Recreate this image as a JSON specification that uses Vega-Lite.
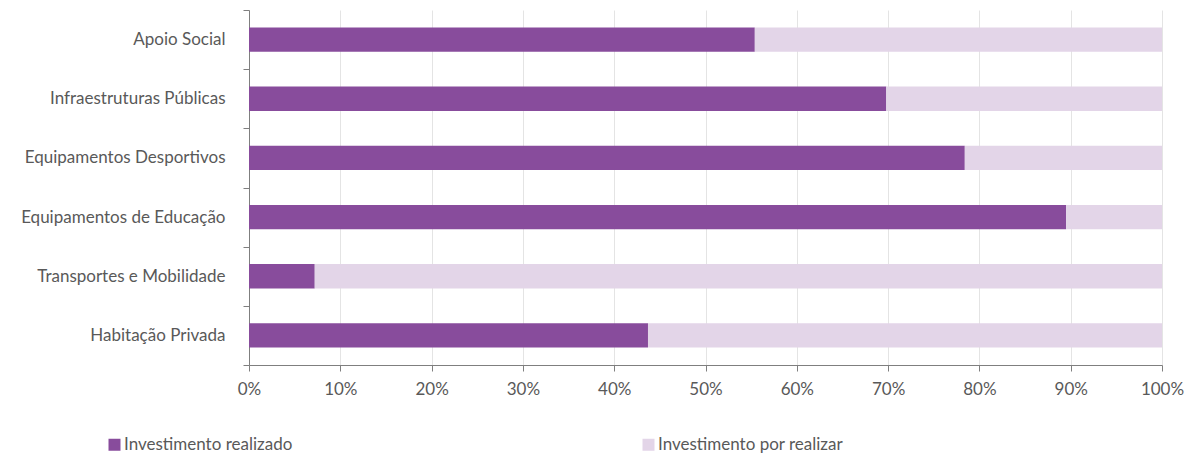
{
  "$schema": "https://vega.github.io/schema/vega-lite/v6.json",
  "autosize": {"type": "none"},
  "padding": {"left": 249, "top": 10, "right": 27, "bottom": 91},
  "width": 913,
  "height": 355,
  "background": "white",
  "config": {
    "font": "Lato",
    "view": {"stroke": null},
    "axis": {"labelFont": "Lato", "labelFontSize": 17, "labelColor": "#595959", "domainColor": "#7f7f7f", "tickColor": "#7f7f7f", "gridColor": "#e4e4e4", "labelLimit": 400},
    "legend": {"labelFont": "Lato", "labelFontSize": 17, "labelColor": "#595959", "labelLimit": 400}
  },
  "data": {
    "values": [
      {"categoria": "Apoio Social", "serie": "Investimento realizado", "ordem": 1, "valor": 55.4},
      {"categoria": "Apoio Social", "serie": "Investimento por realizar", "ordem": 2, "valor": 44.6},
      {"categoria": "Infraestruturas Públicas", "serie": "Investimento realizado", "ordem": 1, "valor": 69.8},
      {"categoria": "Infraestruturas Públicas", "serie": "Investimento por realizar", "ordem": 2, "valor": 30.2},
      {"categoria": "Equipamentos Desportivos", "serie": "Investimento realizado", "ordem": 1, "valor": 78.4},
      {"categoria": "Equipamentos Desportivos", "serie": "Investimento por realizar", "ordem": 2, "valor": 21.6},
      {"categoria": "Equipamentos de Educação", "serie": "Investimento realizado", "ordem": 1, "valor": 89.5},
      {"categoria": "Equipamentos de Educação", "serie": "Investimento por realizar", "ordem": 2, "valor": 10.5},
      {"categoria": "Transportes e Mobilidade", "serie": "Investimento realizado", "ordem": 1, "valor": 7.2},
      {"categoria": "Transportes e Mobilidade", "serie": "Investimento por realizar", "ordem": 2, "valor": 92.8},
      {"categoria": "Habitação Privada", "serie": "Investimento realizado", "ordem": 1, "valor": 43.7},
      {"categoria": "Habitação Privada", "serie": "Investimento por realizar", "ordem": 2, "valor": 56.3}
    ]
  },
  "mark": {"type": "bar", "height": {"band": 0.41}},
  "encoding": {
    "y": {
      "field": "categoria", "type": "nominal",
      "sort": ["Apoio Social", "Infraestruturas Públicas", "Equipamentos Desportivos", "Equipamentos de Educação", "Transportes e Mobilidade", "Habitação Privada"],
      "scale": {"paddingInner": 0, "paddingOuter": 0},
      "axis": {"title": null, "grid": false, "ticks": true, "tickSize": 6, "tickBand": "extent", "labelPadding": 18, "domain": true}
    },
    "x": {
      "field": "valor", "type": "quantitative", "stack": "zero",
      "scale": {"domain": [0, 100], "nice": false},
      "axis": {"title": null, "values": [0,10,20,30,40,50,60,70,80,90,100], "labelExpr": "datum.value + '%'", "labelFlush": false, "tickSize": 6, "labelPadding": 10, "grid": true, "domain": true}
    },
    "color": {
      "field": "serie", "type": "nominal",
      "scale": {"domain": ["Investimento realizado", "Investimento por realizar"], "range": ["#884c9c", "#e3d5e8"]},
      "legend": {"title": null, "orient": "none", "legendX": -143, "legendY": 426, "direction": "horizontal", "columns": 2, "symbolType": "square", "symbolSize": 144, "symbolStrokeWidth": 0, "labelOffset": 1, "columnPadding": 347}
    },
    "order": {"field": "ordem", "type": "quantitative"}
  }
}
